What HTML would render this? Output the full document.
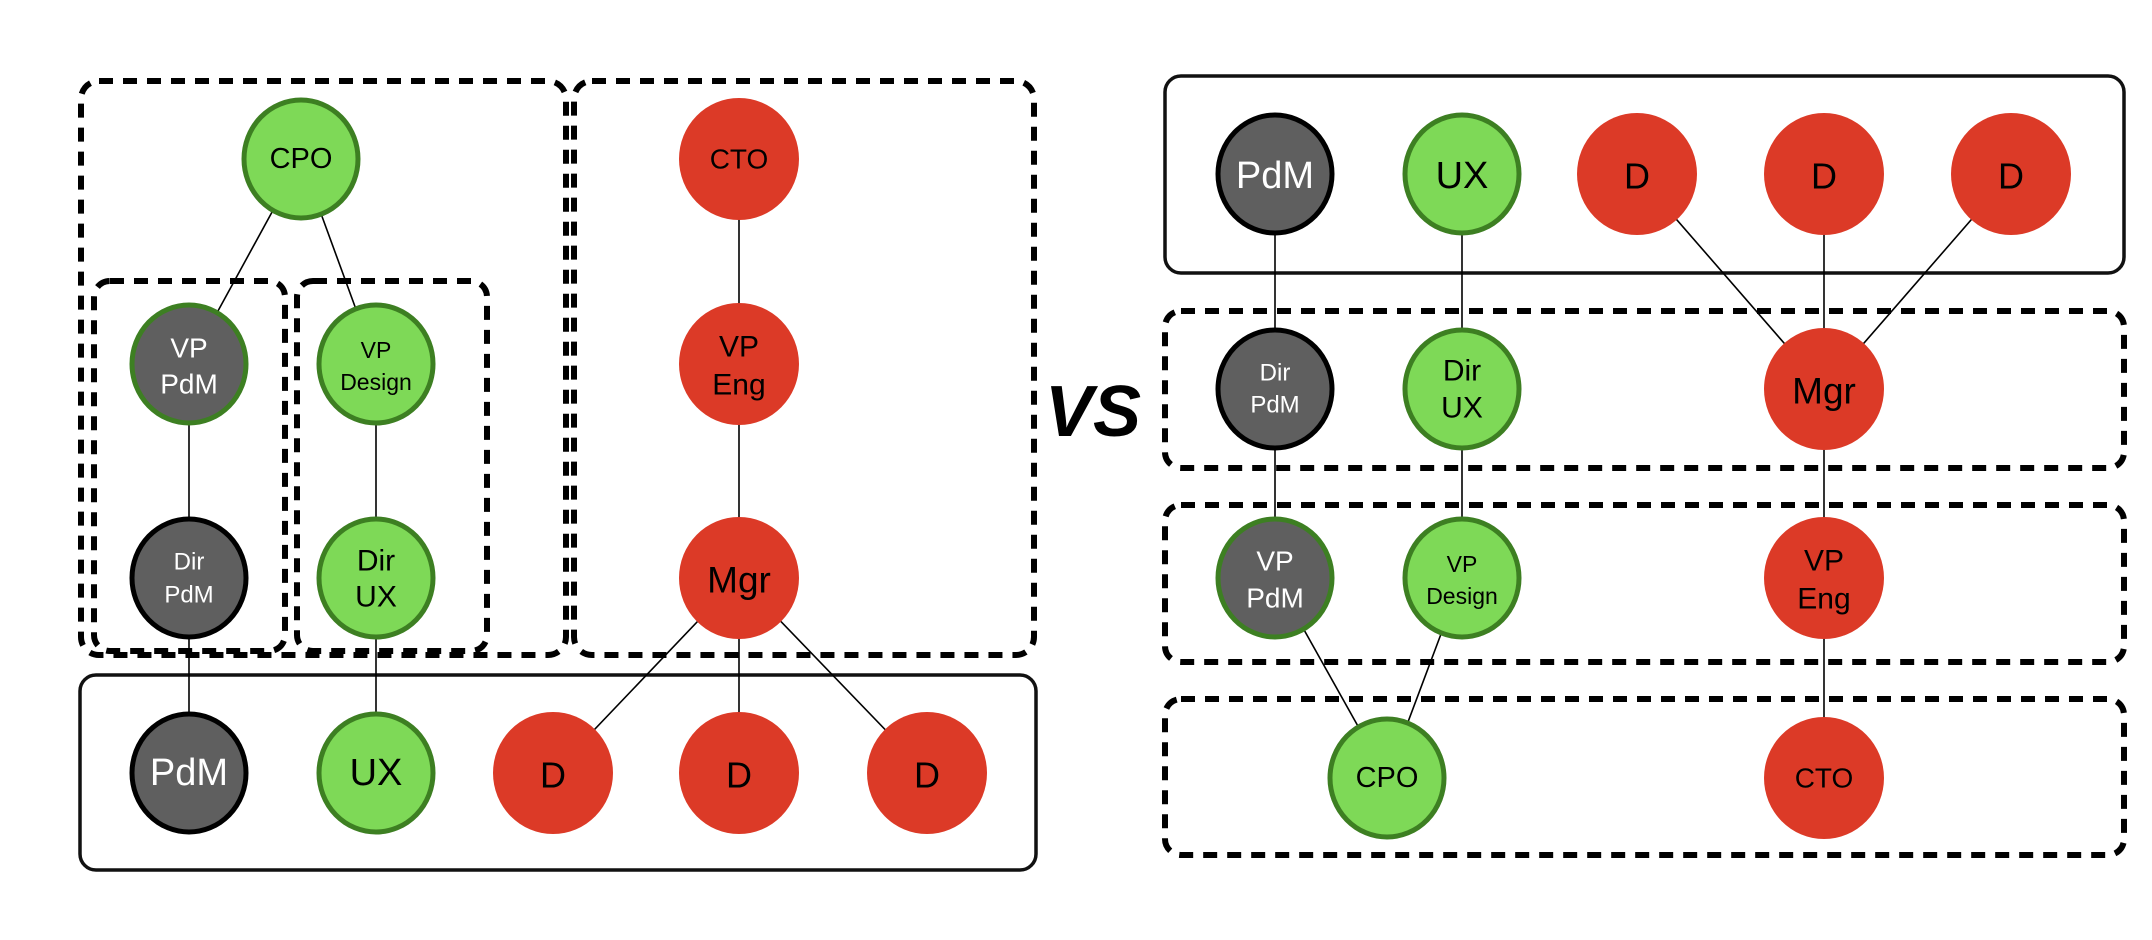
<!DOCTYPE html>
<html><head><meta charset="utf-8"><style>
html,body{margin:0;padding:0;background:#fff}
svg{display:block}
text{font-family:"Liberation Sans",sans-serif;text-anchor:middle;dominant-baseline:central}
</style></head><body>
<svg width="2152" height="940" viewBox="0 0 2152 940" xmlns="http://www.w3.org/2000/svg">
<g fill="none" stroke="#000" stroke-width="6" stroke-dasharray="14 10">
<rect x="81" y="81" width="485" height="574" rx="18"/>
<rect x="574" y="81" width="460" height="574" rx="18"/>
<rect x="94" y="281" width="191" height="370" rx="16"/>
<rect x="297" y="281" width="190" height="370" rx="16"/>
<rect x="1165" y="311" width="959" height="157" rx="16"/>
<rect x="1165" y="505" width="959" height="157" rx="16"/>
<rect x="1165" y="699" width="959" height="156" rx="16"/>
</g>
<g fill="none" stroke="#111" stroke-width="3.5">
<rect x="80" y="675" width="956" height="195" rx="16"/>
<rect x="1165" y="76" width="959" height="197" rx="16"/>
</g>
<g stroke="#000" stroke-width="1.6">
<line x1="301" y1="159" x2="189" y2="364"/>
<line x1="301" y1="159" x2="376" y2="364"/>
<line x1="189" y1="364" x2="189" y2="773"/>
<line x1="376" y1="364" x2="376" y2="773"/>
<line x1="739" y1="159" x2="739" y2="773"/>
<line x1="739" y1="578" x2="553" y2="773"/>
<line x1="739" y1="578" x2="927" y2="773"/>
<line x1="1275" y1="174" x2="1275" y2="578"/>
<line x1="1462" y1="174" x2="1462" y2="578"/>
<line x1="1637" y1="174" x2="1824" y2="389"/>
<line x1="2011" y1="174" x2="1824" y2="389"/>
<line x1="1824" y1="174" x2="1824" y2="778"/>
<line x1="1275" y1="578" x2="1387" y2="778"/>
<line x1="1462" y1="578" x2="1387" y2="778"/>
</g>
<defs>
<g id="g"><ellipse rx="57" ry="59" fill="#7ed957" stroke="#3d7f22" stroke-width="5"/></g>
<g id="k"><ellipse rx="57" ry="59" fill="#5f5f5f" stroke="#000" stroke-width="5"/></g>
<g id="kg"><ellipse rx="57" ry="59" fill="#5f5f5f" stroke="#3d7f22" stroke-width="5"/></g>
<g id="r"><ellipse rx="60" ry="61" fill="#dc3a27"/></g>
</defs>
<use href="#g" x="301" y="159"/><text x="301" y="159" font-size="29">CPO</text>
<use href="#kg" x="189" y="364"/><text x="189" y="348" font-size="28" fill="#fff">VP</text><text x="189" y="384" font-size="28" fill="#fff">PdM</text>
<use href="#g" x="376" y="364"/><text x="376" y="350" font-size="23">VP</text><text x="376" y="382" font-size="23">Design</text>
<use href="#k" x="189" y="578"/><text x="189" y="562" font-size="24" fill="#fff">Dir</text><text x="189" y="595" font-size="24" fill="#fff">PdM</text>
<use href="#g" x="376" y="578"/><text x="376" y="561" font-size="30">Dir</text><text x="376" y="597" font-size="30">UX</text>
<use href="#r" x="739" y="159"/><text x="739" y="159" font-size="28">CTO</text>
<use href="#r" x="739" y="364"/><text x="739" y="347" font-size="30">VP</text><text x="739" y="385" font-size="30">Eng</text>
<use href="#r" x="739" y="578"/><text x="739" y="580" font-size="37">Mgr</text>
<use href="#k" x="189" y="773"/><text x="189" y="773" font-size="38" fill="#fff">PdM</text>
<use href="#g" x="376" y="773"/><text x="376" y="773" font-size="38">UX</text>
<use href="#r" x="553" y="773"/><text x="553" y="775" font-size="36">D</text>
<use href="#r" x="739" y="773"/><text x="739" y="775" font-size="36">D</text>
<use href="#r" x="927" y="773"/><text x="927" y="775" font-size="36">D</text>
<text x="1093" y="412" font-size="72" font-weight="bold" font-style="italic">VS</text>
<use href="#k" x="1275" y="174"/><text x="1275" y="176" font-size="38" fill="#fff">PdM</text>
<use href="#g" x="1462" y="174"/><text x="1462" y="176" font-size="38">UX</text>
<use href="#r" x="1637" y="174"/><text x="1637" y="176" font-size="36">D</text>
<use href="#r" x="1824" y="174"/><text x="1824" y="176" font-size="36">D</text>
<use href="#r" x="2011" y="174"/><text x="2011" y="176" font-size="36">D</text>
<use href="#k" x="1275" y="389"/><text x="1275" y="373" font-size="24" fill="#fff">Dir</text><text x="1275" y="405" font-size="24" fill="#fff">PdM</text>
<use href="#g" x="1462" y="389"/><text x="1462" y="371" font-size="30">Dir</text><text x="1462" y="408" font-size="30">UX</text>
<use href="#r" x="1824" y="389"/><text x="1824" y="391" font-size="37">Mgr</text>
<use href="#kg" x="1275" y="578"/><text x="1275" y="561" font-size="28" fill="#fff">VP</text><text x="1275" y="598" font-size="28" fill="#fff">PdM</text>
<use href="#g" x="1462" y="578"/><text x="1462" y="564" font-size="23">VP</text><text x="1462" y="596" font-size="23">Design</text>
<use href="#r" x="1824" y="578"/><text x="1824" y="561" font-size="30">VP</text><text x="1824" y="599" font-size="30">Eng</text>
<use href="#g" x="1387" y="778"/><text x="1387" y="778" font-size="29">CPO</text>
<use href="#r" x="1824" y="778"/><text x="1824" y="778" font-size="28">CTO</text>
</svg>
</body></html>
